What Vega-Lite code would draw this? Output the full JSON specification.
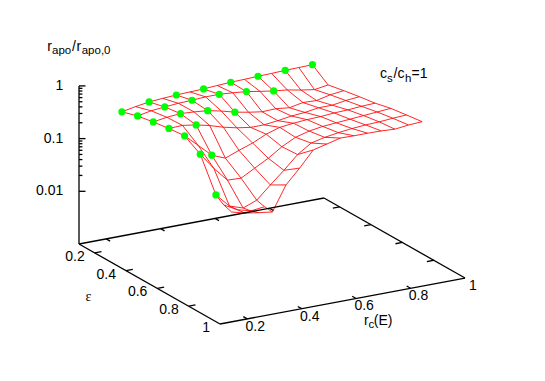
{"$schema":"https://vega.github.io/schema/vega-lite/v6.json","width":545,"height":381,"padding":0,"autosize":{"type":"fit","contains":"padding"},"background":"white","config":{"view":{"stroke":null}},
"data":{"values":[
{"k":"g","rc":0.2,"eps":0.2,"logr":-0.42,"m":1},{"k":"g","rc":0.25,"eps":0.2,"logr":-0.37},{"k":"g","rc":0.3,"eps":0.2,"logr":-0.33,"m":1},{"k":"g","rc":0.35,"eps":0.2,"logr":-0.31},{"k":"g","rc":0.4,"eps":0.2,"logr":-0.295,"m":1},{"k":"g","rc":0.45,"eps":0.2,"logr":-0.285},{"k":"g","rc":0.5,"eps":0.2,"logr":-0.277,"m":1},{"k":"g","rc":0.55,"eps":0.2,"logr":-0.26},{"k":"g","rc":0.6,"eps":0.2,"logr":-0.247,"m":1},{"k":"g","rc":0.65,"eps":0.2,"logr":-0.24},{"k":"g","rc":0.7,"eps":0.2,"logr":-0.23,"m":1},{"k":"g","rc":0.75,"eps":0.2,"logr":-0.225},{"k":"g","rc":0.8,"eps":0.2,"logr":-0.214,"m":1},{"k":"g","rc":0.85,"eps":0.2,"logr":-0.21},{"k":"g","rc":0.9,"eps":0.2,"logr":-0.205,"m":1},
{"k":"g","rc":0.2,"eps":0.3,"logr":-0.33,"m":1},{"k":"g","rc":0.25,"eps":0.3,"logr":-0.28},{"k":"g","rc":0.3,"eps":0.3,"logr":-0.256,"m":1},{"k":"g","rc":0.35,"eps":0.3,"logr":-0.235},{"k":"g","rc":0.4,"eps":0.3,"logr":-0.226,"m":1},{"k":"g","rc":0.45,"eps":0.3,"logr":-0.21},{"k":"g","rc":0.5,"eps":0.3,"logr":-0.21,"m":1},{"k":"g","rc":0.55,"eps":0.3,"logr":-0.23},{"k":"g","rc":0.6,"eps":0.3,"logr":-0.256,"m":1},{"k":"g","rc":0.65,"eps":0.3,"logr":-0.3},{"k":"g","rc":0.7,"eps":0.3,"logr":-0.34,"m":1},{"k":"g","rc":0.75,"eps":0.3,"logr":-0.37},{"k":"g","rc":0.8,"eps":0.3,"logr":-0.42},{"k":"g","rc":0.85,"eps":0.3,"logr":-0.46},{"k":"g","rc":0.9,"eps":0.3,"logr":-0.42},
{"k":"g","rc":0.2,"eps":0.4,"logr":-0.275,"m":1},{"k":"g","rc":0.25,"eps":0.4,"logr":-0.235},{"k":"g","rc":0.3,"eps":0.4,"logr":-0.214,"m":1},{"k":"g","rc":0.35,"eps":0.4,"logr":-0.23},{"k":"g","rc":0.4,"eps":0.4,"logr":-0.254,"m":1},{"k":"g","rc":0.45,"eps":0.4,"logr":-0.31},{"k":"g","rc":0.5,"eps":0.4,"logr":-0.38,"m":1},{"k":"g","rc":0.55,"eps":0.4,"logr":-0.43},{"k":"g","rc":0.6,"eps":0.4,"logr":-0.47},{"k":"g","rc":0.65,"eps":0.4,"logr":-0.46},{"k":"g","rc":0.7,"eps":0.4,"logr":-0.49},{"k":"g","rc":0.75,"eps":0.4,"logr":-0.44},{"k":"g","rc":0.8,"eps":0.4,"logr":-0.45},{"k":"g","rc":0.85,"eps":0.4,"logr":-0.39},{"k":"g","rc":0.9,"eps":0.4,"logr":-0.36},
{"k":"g","rc":0.2,"eps":0.5,"logr":-0.23,"m":1},{"k":"g","rc":0.25,"eps":0.5,"logr":-0.22},{"k":"g","rc":0.3,"eps":0.5,"logr":-0.26,"m":1},{"k":"g","rc":0.35,"eps":0.5,"logr":-0.32},{"k":"g","rc":0.4,"eps":0.5,"logr":-0.4},{"k":"g","rc":0.45,"eps":0.5,"logr":-0.46},{"k":"g","rc":0.5,"eps":0.5,"logr":-0.5},{"k":"g","rc":0.55,"eps":0.5,"logr":-0.5},{"k":"g","rc":0.6,"eps":0.5,"logr":-0.47},{"k":"g","rc":0.65,"eps":0.5,"logr":-0.43},{"k":"g","rc":0.7,"eps":0.5,"logr":-0.41},{"k":"g","rc":0.75,"eps":0.5,"logr":-0.37},{"k":"g","rc":0.8,"eps":0.5,"logr":-0.37},{"k":"g","rc":0.85,"eps":0.5,"logr":-0.33},{"k":"g","rc":0.9,"eps":0.5,"logr":-0.306},
{"k":"g","rc":0.2,"eps":0.6,"logr":-0.2,"m":1},{"k":"g","rc":0.25,"eps":0.6,"logr":-0.43},{"k":"g","rc":0.3,"eps":0.6,"logr":-0.666,"m":1},{"k":"g","rc":0.35,"eps":0.6,"logr":-0.77},{"k":"g","rc":0.4,"eps":0.6,"logr":-0.67},{"k":"g","rc":0.45,"eps":0.6,"logr":-0.58},{"k":"g","rc":0.5,"eps":0.6,"logr":-0.46},{"k":"g","rc":0.55,"eps":0.6,"logr":-0.38},{"k":"g","rc":0.6,"eps":0.6,"logr":-0.35},{"k":"g","rc":0.65,"eps":0.6,"logr":-0.33},{"k":"g","rc":0.7,"eps":0.6,"logr":-0.32},{"k":"g","rc":0.75,"eps":0.6,"logr":-0.3},{"k":"g","rc":0.8,"eps":0.6,"logr":-0.29},{"k":"g","rc":0.85,"eps":0.6,"logr":-0.27},{"k":"g","rc":0.9,"eps":0.6,"logr":-0.26},
{"k":"g","rc":0.2,"eps":0.7,"logr":-0.38,"m":1},{"k":"g","rc":0.25,"eps":0.7,"logr":-0.7},{"k":"g","rc":0.3,"eps":0.7,"logr":-0.97},{"k":"g","rc":0.35,"eps":0.7,"logr":-0.98},{"k":"g","rc":0.4,"eps":0.7,"logr":-0.84},{"k":"g","rc":0.45,"eps":0.7,"logr":-0.7},{"k":"g","rc":0.5,"eps":0.7,"logr":-0.53},{"k":"g","rc":0.55,"eps":0.7,"logr":-0.4},{"k":"g","rc":0.6,"eps":0.7,"logr":-0.33},{"k":"g","rc":0.65,"eps":0.7,"logr":-0.29},{"k":"g","rc":0.7,"eps":0.7,"logr":-0.27},{"k":"g","rc":0.75,"eps":0.7,"logr":-0.25},{"k":"g","rc":0.8,"eps":0.7,"logr":-0.23},{"k":"g","rc":0.85,"eps":0.7,"logr":-0.21},{"k":"g","rc":0.9,"eps":0.7,"logr":-0.19},
{"k":"g","rc":0.2,"eps":0.8,"logr":-0.985,"m":1},{"k":"g","rc":0.25,"eps":0.8,"logr":-1.245},{"k":"g","rc":0.3,"eps":0.8,"logr":-1.33},{"k":"g","rc":0.35,"eps":0.8,"logr":-1.23},{"k":"g","rc":0.4,"eps":0.8,"logr":-0.99},{"k":"g","rc":0.45,"eps":0.8,"logr":-0.76},{"k":"g","rc":0.5,"eps":0.8,"logr":-0.51},{"k":"g","rc":0.55,"eps":0.8,"logr":-0.34},{"k":"g","rc":0.6,"eps":0.8,"logr":-0.28},{"k":"g","rc":0.65,"eps":0.8,"logr":-0.24},{"k":"g","rc":0.7,"eps":0.8,"logr":-0.21},{"k":"g","rc":0.75,"eps":0.8,"logr":-0.19},{"k":"g","rc":0.8,"eps":0.8,"logr":-0.18},{"k":"g","rc":0.85,"eps":0.8,"logr":-0.16},{"k":"g","rc":0.9,"eps":0.8,"logr":-0.146},
{"k":"g","rc":0.2,"eps":0.85,"logr":-1.09},{"k":"g","rc":0.25,"eps":0.85,"logr":-1.23},{"k":"g","rc":0.3,"eps":0.85,"logr":-1.3},{"k":"g","rc":0.35,"eps":0.85,"logr":-1.27},
{"k":"g","rc":0.2,"eps":0.9,"logr":-1.14},{"k":"g","rc":0.25,"eps":0.9,"logr":-1.21},{"k":"g","rc":0.3,"eps":0.9,"logr":-1.25},{"k":"g","rc":0.35,"eps":0.9,"logr":-1.285},{"k":"g","rc":0.4,"eps":0.9,"logr":-0.82},{"k":"g","rc":0.45,"eps":0.9,"logr":-0.55},{"k":"g","rc":0.5,"eps":0.9,"logr":-0.254},{"k":"g","rc":0.55,"eps":0.9,"logr":-0.19},{"k":"g","rc":0.6,"eps":0.9,"logr":-0.125},{"k":"g","rc":0.65,"eps":0.9,"logr":-0.13},{"k":"g","rc":0.7,"eps":0.9,"logr":-0.13},{"k":"g","rc":0.75,"eps":0.9,"logr":-0.135},{"k":"g","rc":0.8,"eps":0.9,"logr":-0.15},{"k":"g","rc":0.85,"eps":0.9,"logr":-0.12},{"k":"g","rc":0.9,"eps":0.9,"logr":-0.105},
{"k":"s","rc":0.1,"eps":0.1,"logr":-3,"rc2":0.1,"eps2":1,"logr2":-3},{"k":"s","rc":0.1,"eps":1,"logr":-3,"rc2":1,"eps2":1,"logr2":-3},{"k":"s","rc":1,"eps":1,"logr":-3,"rc2":1,"eps2":0.1,"logr2":-3},{"k":"s","rc":1,"eps":0.1,"logr":-3,"rc2":0.1,"eps2":0.1,"logr2":-3},{"k":"s","rc":0.1,"eps":0.1,"logr":-3,"rc2":0.1,"eps2":0.1,"logr2":0},
{"k":"s","rc":0.2,"eps":1,"logr":-3,"rc2":0.2,"eps2":0.975,"logr2":-3},{"k":"s","rc":0.4,"eps":1,"logr":-3,"rc2":0.4,"eps2":0.975,"logr2":-3},{"k":"s","rc":0.6,"eps":1,"logr":-3,"rc2":0.6,"eps2":0.975,"logr2":-3},{"k":"s","rc":0.8,"eps":1,"logr":-3,"rc2":0.8,"eps2":0.975,"logr2":-3},
{"k":"s","rc":0.2,"eps":0.1,"logr":-3,"rc2":0.2,"eps2":0.125,"logr2":-3},{"k":"s","rc":0.4,"eps":0.1,"logr":-3,"rc2":0.4,"eps2":0.125,"logr2":-3},{"k":"s","rc":0.6,"eps":0.1,"logr":-3,"rc2":0.6,"eps2":0.125,"logr2":-3},{"k":"s","rc":0.8,"eps":0.1,"logr":-3,"rc2":0.8,"eps2":0.125,"logr2":-3},
{"k":"s","rc":0.1,"eps":0.2,"logr":-3,"rc2":0.125,"eps2":0.2,"logr2":-3},{"k":"s","rc":0.1,"eps":0.4,"logr":-3,"rc2":0.125,"eps2":0.4,"logr2":-3},{"k":"s","rc":0.1,"eps":0.6,"logr":-3,"rc2":0.125,"eps2":0.6,"logr2":-3},{"k":"s","rc":0.1,"eps":0.8,"logr":-3,"rc2":0.125,"eps2":0.8,"logr2":-3},
{"k":"s","rc":1,"eps":0.2,"logr":-3,"rc2":0.975,"eps2":0.2,"logr2":-3},{"k":"s","rc":1,"eps":0.4,"logr":-3,"rc2":0.975,"eps2":0.4,"logr2":-3},{"k":"s","rc":1,"eps":0.6,"logr":-3,"rc2":0.975,"eps2":0.6,"logr2":-3},{"k":"s","rc":1,"eps":0.8,"logr":-3,"rc2":0.975,"eps2":0.8,"logr2":-3},
{"k":"zmajor","rc":0.1,"eps":0.1,"logr":0,"t":"1"},{"k":"zmajor","rc":0.1,"eps":0.1,"logr":-1,"t":"0.1"},{"k":"zmajor","rc":0.1,"eps":0.1,"logr":-2,"t":"0.01"},
{"k":"zminor","rc":0.1,"eps":0.1,"logr":-0.046},{"k":"zminor","rc":0.1,"eps":0.1,"logr":-0.097},{"k":"zminor","rc":0.1,"eps":0.1,"logr":-0.155},{"k":"zminor","rc":0.1,"eps":0.1,"logr":-0.222},{"k":"zminor","rc":0.1,"eps":0.1,"logr":-0.301},{"k":"zminor","rc":0.1,"eps":0.1,"logr":-0.398},{"k":"zminor","rc":0.1,"eps":0.1,"logr":-0.523},{"k":"zminor","rc":0.1,"eps":0.1,"logr":-0.699},
{"k":"zminor","rc":0.1,"eps":0.1,"logr":-1.046},{"k":"zminor","rc":0.1,"eps":0.1,"logr":-1.097},{"k":"zminor","rc":0.1,"eps":0.1,"logr":-1.155},{"k":"zminor","rc":0.1,"eps":0.1,"logr":-1.222},{"k":"zminor","rc":0.1,"eps":0.1,"logr":-1.301},{"k":"zminor","rc":0.1,"eps":0.1,"logr":-1.398},{"k":"zminor","rc":0.1,"eps":0.1,"logr":-1.523},{"k":"zminor","rc":0.1,"eps":0.1,"logr":-1.699},
{"k":"xl","rc":0.2,"eps":1,"logr":-3,"t":"0.2"},{"k":"xl","rc":0.4,"eps":1,"logr":-3,"t":"0.4"},{"k":"xl","rc":0.6,"eps":1,"logr":-3,"t":"0.6"},{"k":"xl","rc":0.8,"eps":1,"logr":-3,"t":"0.8"},{"k":"xl","rc":1,"eps":1,"logr":-3,"t":"1"},
{"k":"yl","rc":0.1,"eps":0.2,"logr":-3,"t":"0.2"},{"k":"yl","rc":0.1,"eps":0.4,"logr":-3,"t":"0.4"},{"k":"yl","rc":0.1,"eps":0.6,"logr":-3,"t":"0.6"},{"k":"yl","rc":0.1,"eps":0.8,"logr":-3,"t":"0.8"},{"k":"yl","rc":0.1,"eps":1,"logr":-3,"t":"1"},
{"k":"main","rc":-0.0165,"eps":0.1,"logr":0.781,"t":"r"},{"k":"main","rc":0.0743,"eps":0.1,"logr":0.693,"t":"/"},{"k":"main","rc":0.0912,"eps":0.1,"logr":0.676,"t":"r"},
{"k":"sub","rc":0.0008,"eps":0.1,"logr":0.698,"t":"apo"},{"k":"sub","rc":0.1099,"eps":0.1,"logr":0.592,"t":"apo,0"},
{"k":"main","rc":1.2058,"eps":0.1,"logr":-0.922,"t":"c"},{"k":"main","rc":1.2554,"eps":0.1,"logr":-0.97,"t":"/c"},{"k":"main","rc":1.3215,"eps":0.1,"logr":-1.035,"t":"=1"},
{"k":"sub","rc":1.2315,"eps":0.1,"logr":-1.014,"t":"s"},{"k":"sub","rc":1.2976,"eps":0.1,"logr":-1.078,"t":"h"},
{"k":"main","rc":0.629,"eps":1,"logr":-3.532,"t":"r"},{"k":"main","rc":0.665,"eps":1,"logr":-3.567,"t":"(E)"},{"k":"sub","rc":0.6456,"eps":1,"logr":-3.614,"t":"c"},
{"k":"greek","rc":0.1,"eps":0.1415,"logr":-4.021,"t":"ε"}
]},
"transform":[
{"calculate":"79+272.2*(datum.rc-0.1)+156.7*(datum.eps-0.1)","as":"sx"},
{"calculate":"244-51.1*(datum.rc-0.1)+88.9*(datum.eps-0.1)-52.7*(datum.logr+3)","as":"sy"},
{"calculate":"datum.k=='zmajor'?datum.sx+6.5:datum.k=='zminor'?datum.sx+3.4:79+272.2*(datum.rc2-0.1)+156.7*(datum.eps2-0.1)","as":"sx2"},
{"calculate":"(datum.k=='zmajor'||datum.k=='zminor')?datum.sy:244-51.1*(datum.rc2-0.1)+88.9*(datum.eps2-0.1)-52.7*(datum.logr2+3)","as":"sy2"}
],
"encoding":{
"x":{"field":"sx","type":"quantitative","scale":{"domain":[0,545],"nice":false,"zero":false},"axis":null},
"y":{"field":"sy","type":"quantitative","scale":{"domain":[381,0],"nice":false,"zero":false},"axis":null}
},
"layer":[
{"transform":[{"filter":"datum.k=='g'"}],"mark":{"type":"line","color":"#ff0000","strokeWidth":0.85,"clip":false},"encoding":{"detail":{"field":"eps"},"order":{"field":"rc","type":"quantitative"}}},
{"transform":[{"filter":"datum.k=='g'"}],"mark":{"type":"line","color":"#ff0000","strokeWidth":0.85,"clip":false},"encoding":{"detail":{"field":"rc"},"order":{"field":"eps","type":"quantitative"}}},
{"transform":[{"filter":"datum.k=='s'||datum.k=='zmajor'||datum.k=='zminor'"}],"mark":{"type":"rule","color":"#000000","strokeWidth":1.3},"encoding":{"x2":{"field":"sx2"},"y2":{"field":"sy2"}}},
{"transform":[{"filter":"datum.m==1"}],"mark":{"type":"circle","color":"#00ff00","opacity":1,"size":52}},
{"transform":[{"filter":"datum.k=='zmajor'"}],"mark":{"type":"text","font":"Liberation Sans","fontSize":14,"align":"right","baseline":"middle","dx":-15.7,"color":"#000000"},"encoding":{"text":{"field":"t"}}},
{"transform":[{"filter":"datum.k=='xl'"}],"mark":{"type":"text","font":"Liberation Sans","fontSize":14,"align":"center","baseline":"middle","dx":8,"dy":8,"color":"#000000"},"encoding":{"text":{"field":"t"}}},
{"transform":[{"filter":"datum.k=='yl'"}],"mark":{"type":"text","font":"Liberation Sans","fontSize":14,"align":"right","baseline":"middle","dx":-10,"dy":4,"color":"#000000"},"encoding":{"text":{"field":"t"}}},
{"transform":[{"filter":"datum.k=='main'"}],"mark":{"type":"text","font":"Liberation Sans","fontSize":14,"align":"left","baseline":"alphabetic","color":"#000000"},"encoding":{"text":{"field":"t"}}},
{"transform":[{"filter":"datum.k=='sub'"}],"mark":{"type":"text","font":"Liberation Sans","fontSize":11.5,"align":"left","baseline":"alphabetic","color":"#000000"},"encoding":{"text":{"field":"t"}}},
{"transform":[{"filter":"datum.k=='greek'"}],"mark":{"type":"text","font":"Liberation Serif","fontSize":14,"align":"left","baseline":"alphabetic","color":"#000000"},"encoding":{"text":{"field":"t"}}}
]}
